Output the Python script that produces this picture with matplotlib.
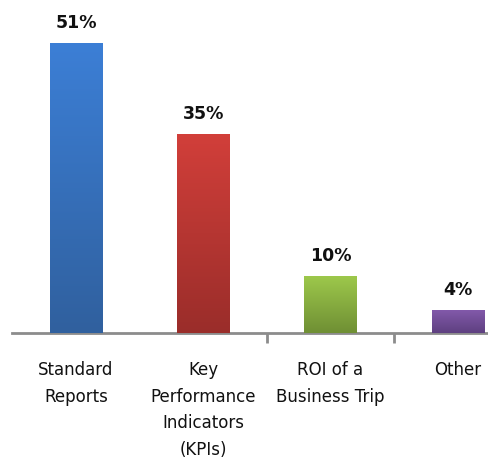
import numpy as np
import matplotlib
matplotlib.use("Agg")
import matplotlib.pyplot as plt
from matplotlib.colors import LinearSegmentedColormap

categories = ["Standard\nReports", "Key\nPerformance\nIndicators\n(KPIs)", "ROI of a\nBusiness Trip", "Other"]
values = [51, 35, 10, 4]
top_colors = ["#3C7FD6", "#D23F3A", "#9DC84B", "#8259AA"]
bottom_colors = ["#30609E", "#9A2D2A", "#6F8F34", "#5E4080"]

W, H = 489, 461
fig = plt.figure(figsize=(W / 100, H / 100), dpi=100)
ax_left = 12.3 / W
ax_bottom = (H - 333) / H
ax = fig.add_axes([ax_left, ax_bottom, 1 - ax_left, 333 / H])

x = np.arange(len(categories))
bars = ax.bar(x, values, width=0.41, color=top_colors, zorder=2)
ax.set_xlim(-0.5, 3.245)
ax.set_ylim(0, 58.56)

grad = np.linspace(0, 1, 256).reshape(-1, 1)
for b, c1, c2 in zip(bars, top_colors, bottom_colors):
    cmap = LinearSegmentedColormap.from_list("g", [c2, c1])
    x0, y0 = b.get_x(), b.get_y()
    w, h = b.get_width(), b.get_height()
    im = ax.imshow(grad, cmap=cmap, aspect="auto", origin="lower",
                   extent=[x0, x0 + w, y0, y0 + h], zorder=3)
    im.set_clip_path(b)

for xi, v in zip(x, values):
    ax.text(xi, v + 2.0, f"{v}%", ha="center", va="bottom",
            fontsize=12.5, fontweight="bold", color="#111111", zorder=4)

for side in ["top", "right", "left"]:
    ax.spines[side].set_visible(False)
ax.spines["bottom"].set_color("#8C8C8C")
ax.spines["bottom"].set_linewidth(2)
ax.set_yticks([])
ax.set_xticks([1.5, 2.5])
ax.set_xticklabels([])
ax.tick_params(axis="x", length=7, width=2, color="#8C8C8C")

for xi, lab in zip(x, categories):
    ax.text(xi, -4.9, lab, ha="center", va="top", fontsize=12,
            color="#111111", linespacing=1.62, transform=ax.transData, clip_on=False)

fig.savefig("out.png", dpi=100)
